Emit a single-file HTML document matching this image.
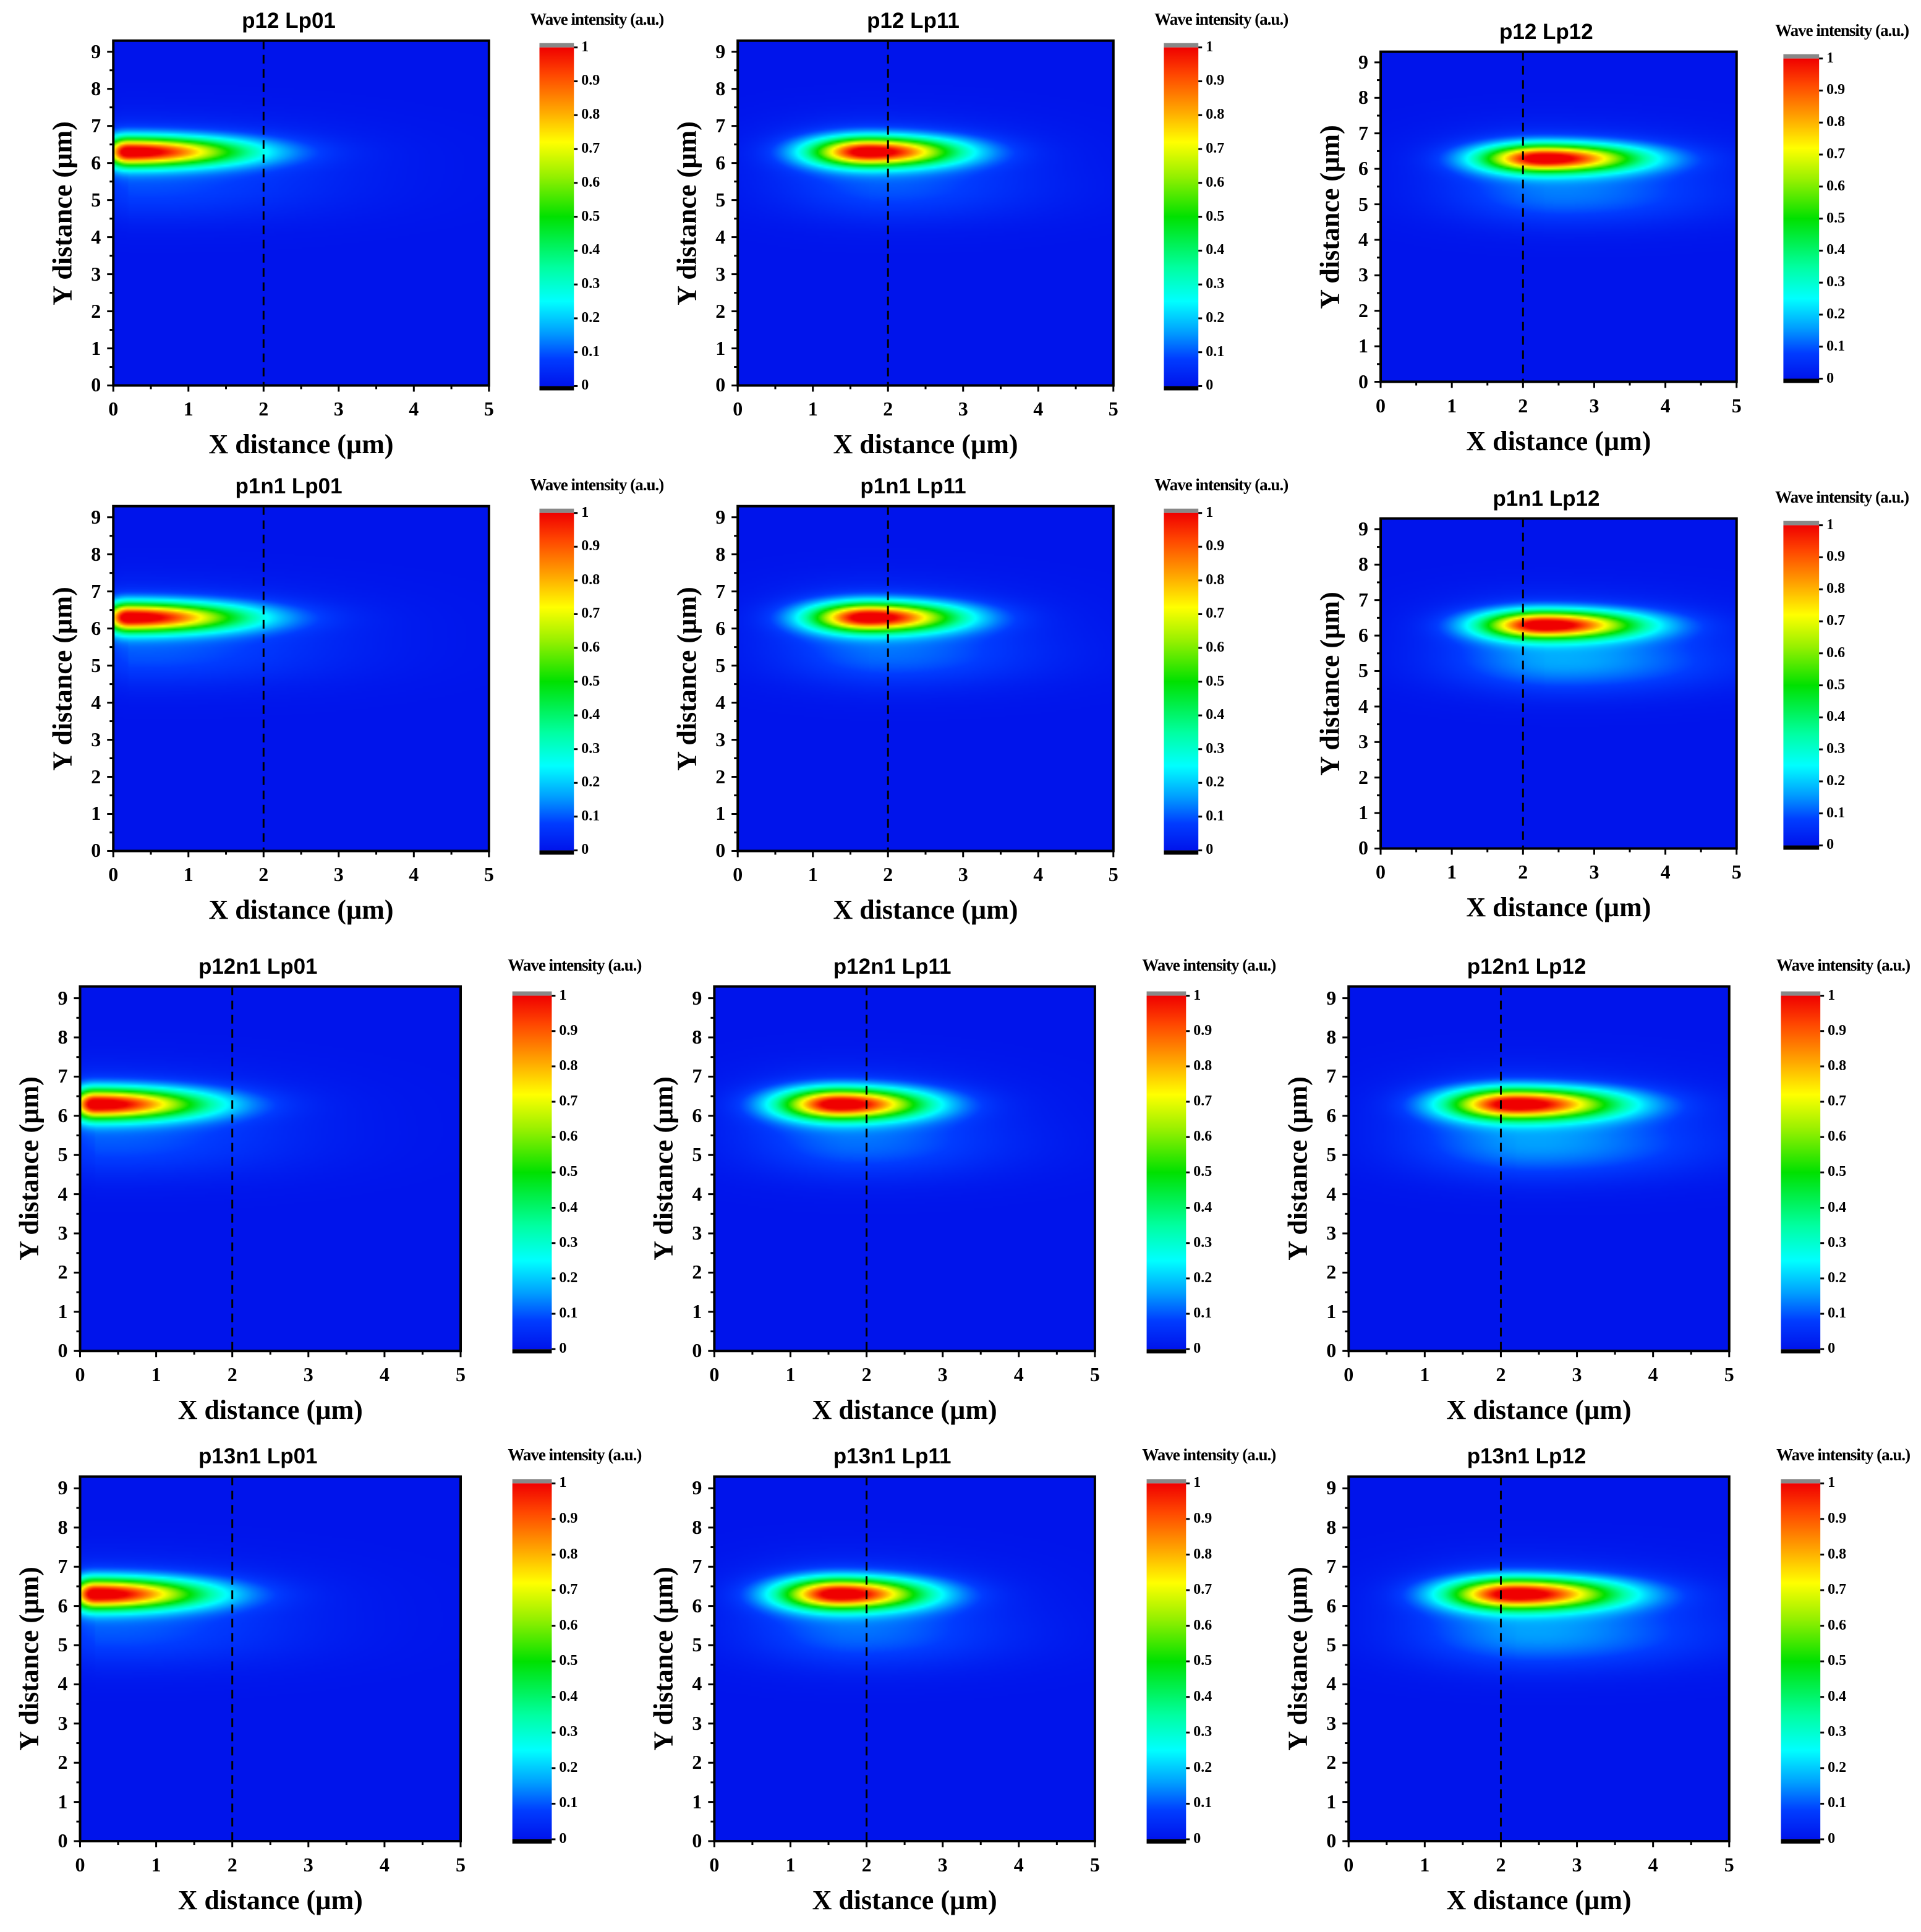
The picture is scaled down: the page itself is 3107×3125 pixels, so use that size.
<!DOCTYPE html>
<html><head><meta charset="utf-8">
<style>
html,body{margin:0;padding:0;background:#fff;}
#root{position:relative;width:3107px;height:3125px;overflow:hidden;background:#fff;}
.abs{position:absolute;}
.title{font-family:"Liberation Sans",sans-serif;font-weight:bold;font-size:35px;white-space:nowrap;transform:translateX(-50%);}
.tick{font-family:"Liberation Serif",serif;font-weight:bold;font-size:32px;white-space:nowrap;}
.axt{font-family:"Liberation Serif",serif;font-weight:bold;font-size:44px;white-space:nowrap;}
.cbl{font-family:"Liberation Serif",serif;font-weight:bold;font-size:24px;white-space:nowrap;}
.wave{font-family:"Liberation Serif",serif;font-weight:bold;font-size:27px;white-space:nowrap;letter-spacing:-1px;}
canvas{position:absolute;}
</style></head>
<body><div id="root"></div>
<script>
// ---- data ----
const panelTitles = ["p12  Lp01","p12  Lp11","p12  Lp12","p1n1  Lp01","p1n1   Lp11","p1n1  Lp12","p12n1  Lp01","p12n1   Lp11","p12n1  Lp12","p13n1  Lp01","p13n1   Lp11","p13n1  Lp12"];
const peakX   = [0.2,1.75,2.3, 0.2,1.75,2.3, 0.2,1.65,2.2, 0.2,1.65,2.2];
const peakY   = [6.3,6.3,6.3, 6.3,6.3,6.3, 6.3,6.3,6.3, 6.3,6.3,6.3];
const sigLeft = [0.3,0.75,0.85, 0.3,0.75,0.85, 0.3,0.75,0.85, 0.3,0.75,0.85];
const sigRight= [1.45,1.1,1.25, 1.45,1.1,1.25, 1.35,1.05,1.25, 1.35,1.05,1.25];
const lobeAmp = [0.07,0.08,0.11, 0.08,0.1,0.15, 0.08,0.1,0.14, 0.08,0.1,0.14];
const dashX = 2;
const xTicks = [0,1,2,3,4,5];
const yTicks = [0,1,2,3,4,5,6,7,8,9];
const cbTicks = ["0","0.1","0.2","0.3","0.4","0.5","0.6","0.7","0.8","0.9","1"];
// ---- layout ----
const S = 1.992;
const boxes = [
 [92,33,397,313,438,35,466,317],[599,33,904,313,945,35,973,317],[1121,42,1410,310,1448,44,1477,311],
 [92,411,397,691,438,413,466,694],[599,411,904,691,945,413,973,694],[1121,421,1410,689,1448,423,1477,690],
 [65,801,374,1097,416,805,448,1099],[580,801,889,1097,931,805,963,1099],[1095,801,1404,1097,1446,805,1478,1099],
 [65,1199,374,1495,416,1201,448,1497],[580,1199,889,1495,931,1201,963,1497],[1095,1199,1404,1495,1446,1201,1478,1497]];
const XMAX=5, YMAX=9.3;
const stops=[[0,0,20,235],[0.08,0,60,255],[0.16,0,160,255],[0.25,0,255,255],[0.35,0,255,160],[0.5,0,225,0],[0.62,150,240,0],[0.72,255,255,0],[0.82,255,160,0],[0.92,255,70,0],[1,240,0,0]];
function cmap(v){v=Math.max(0,Math.min(1,v));for(let i=1;i<stops.length;i++){if(v<=stops[i][0]){const a=stops[i-1],b=stops[i],t=(v-a[0])/(b[0]-a[0]);return [a[1]+(b[1]-a[1])*t,a[2]+(b[2]-a[2])*t,a[3]+(b[3]-a[3])*t];}}return [240,0,0];}
const root=document.getElementById('root');
function add(tag,cls,css,txt){const e=document.createElement(tag);if(cls)e.className=cls;Object.assign(e.style,css);if(txt!==undefined)e.textContent=txt;root.appendChild(e);return e;}
function field(i,x,y){
  const dx=x-peakX[i],dy=y-peakY[i];
  const sx=dx<0?sigLeft[i]:sigRight[i];
  const main=Math.exp(-Math.pow(dx/sx,2))*Math.exp(-Math.pow(dy/0.38,2));
  const halo=0.08*Math.exp(-Math.pow(dx/(sx*1.8),2))*Math.exp(-Math.pow(dy/0.9,2));
  const lx=x-peakX[i]-0.3, ly=y-5.2;
  const lobe=lobeAmp[i]*Math.exp(-Math.pow(lx/(sx*1.3+0.5),2))*Math.exp(-Math.pow(ly/0.8,2));
  return main+halo+lobe;
}
boxes.forEach((b,i)=>{
  const L=b[0]*S,T=b[1]*S,R=b[2]*S,B=b[3]*S,W=R-L,H=B-T;
  const xs=v=>L+v/XMAX*W, ys=v=>B-v/YMAX*H;
  const cv=document.createElement('canvas');
  
  
  const cw=200,ch=200;cv.width=cw;cv.height=ch;
  Object.assign(cv.style,{left:L+'px',top:T+'px',width:W+'px',height:H+'px'});
  const ctx=cv.getContext('2d');const img=ctx.createImageData(cw,ch);
  for(let py=0;py<ch;py++)for(let px=0;px<cw;px++){
    const x=(px+0.5)/cw*XMAX,y=YMAX-(py+0.5)/ch*YMAX;
    const c=cmap(field(i,x,y));const k=(py*cw+px)*4;
    img.data[k]=c[0];img.data[k+1]=c[1];img.data[k+2]=c[2];img.data[k+3]=255;}
  ctx.putImageData(img,0,0);root.appendChild(cv);
  const svg=document.createElementNS('http://www.w3.org/2000/svg','svg');
  
  
  svg.setAttribute('width',3107);svg.setAttribute('height',3125);
  Object.assign(svg.style,{position:'absolute',left:'0',top:'0',pointerEvents:'none'});
  let h=`<rect x="${L}" y="${T}" width="${W}" height="${H}" fill="none" stroke="#000" stroke-width="4"/>`;
  h+=`<line x1="${xs(dashX)}" y1="${T}" x2="${xs(dashX)}" y2="${B}" stroke="#000" stroke-width="3" stroke-dasharray="14,9"/>`;
  for(let v=0;v<=XMAX+0.01;v+=0.5){const big=Math.abs(v-Math.round(v))<0.01;h+=`<line x1="${xs(v)}" y1="${B}" x2="${xs(v)}" y2="${B+(big?10:6)}" stroke="#000" stroke-width="3"/>`;}
  for(let v=0;v<=9.01;v+=0.5){const big=Math.abs(v-Math.round(v))<0.01;h+=`<line x1="${L}" y1="${ys(v)}" x2="${L-(big?10:6)}" y2="${ys(v)}" stroke="#000" stroke-width="3"/>`;}
  const cL=b[4]*S,cT=b[5]*S,cR=b[6]*S,cB=b[7]*S,cap=7,ct=cT+cap,cb=cB-cap;
  h+=`<defs><linearGradient id="g${i}" x1="0" y1="1" x2="0" y2="0">`;
  stops.forEach(s=>{h+=`<stop offset="${s[0]}" stop-color="rgb(${s[1]|0},${s[2]|0},${s[3]|0})"/>`;});
  h+=`</linearGradient></defs>`;
  h+=`<rect x="${cL}" y="${cT}" width="${cR-cL}" height="${cap}" fill="#888"/>`;
  h+=`<rect x="${cL}" y="${cb}" width="${cR-cL}" height="${cap}" fill="#000"/>`;
  h+=`<rect x="${cL}" y="${ct}" width="${cR-cL}" height="${cb-ct}" fill="url(#g${i})"/>`;
  cbTicks.forEach((t,k)=>{const y=cb-(k/10)*(cb-ct);h+=`<line x1="${cR}" y1="${y}" x2="${cR+6}" y2="${y}" stroke="#000" stroke-width="3"/>`;});
  svg.innerHTML=h;root.appendChild(svg);
  const tt=add('div','abs title',{left:(L+W/2-20)+'px',top:(T-52)+'px'},panelTitles[i]);
  
  
  xTicks.forEach(v=>{const e=add('div','abs tick',{left:(xs(v)-8)+'px',top:(B+20)+'px'},String(v));
    
    });
  yTicks.forEach(v=>{const e=add('div','abs tick',{left:(L-36)+'px',top:(ys(v)-19)+'px'},String(v));
    
    });
  const xt=add('div','abs axt',{left:(L+W/2)+'px',top:(B+70)+'px',transform:'translateX(-50%)'},'X distance (\u00b5m)');
  
  
  const yt=add('div','abs axt',{left:(L-82)+'px',top:(T+H/2)+'px',transform:'translate(-50%,-50%) rotate(-90deg)'},'Y distance (\u00b5m)');
  
  
  const wv=add('div','abs wave',{left:(cR+145)+'px',top:(T-50)+'px',transform:'translateX(-100%)'},'Wave intensity (a.u.)');
  
  
  cbTicks.forEach((t,k)=>{const y=cb-(k/10)*(cb-ct);const e=add('div','abs cbl',{left:(cR+12)+'px',top:(y-14)+'px'},t);
    
    });
});
</script>
</body></html>
